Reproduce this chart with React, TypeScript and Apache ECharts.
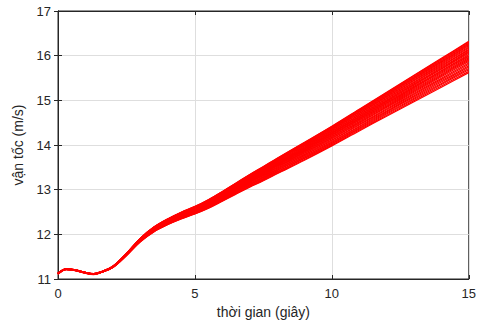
import React, { useEffect, useRef } from "react";
import * as echarts from "echarts";

// time samples (s)
const times = [0, 0.3, 0.6, 1.0, 1.3, 1.6, 2.0, 2.5, 3.0, 3.5, 4.0, 4.5, 5.0, 5.5, 6.0, 6.5, 7.0, 7.5, 8.0, 9.0, 10.0, 11.0, 12.0, 13.0, 14.0, 15.0];
// upper edge of the bundle of velocity curves (m/s)
const upperEdge = [11.13, 11.23, 11.21, 11.15, 11.12, 11.17, 11.285, 11.575, 11.91, 12.165, 12.345, 12.495, 12.625, 12.78, 12.96, 13.15, 13.34, 13.52, 13.705, 14.06, 14.42, 14.8, 15.18, 15.56, 15.94, 16.32];
// lower edge of the bundle (m/s)
const lowerEdge = [11.11, 11.21, 11.19, 11.13, 11.1, 11.15, 11.255, 11.525, 11.83, 12.055, 12.215, 12.345, 12.455, 12.585, 12.74, 12.9, 13.055, 13.2, 13.355, 13.66, 13.98, 14.315, 14.645, 14.97, 15.295, 15.62];
// relative position of each simulated run within the bundle (0 = lower edge, 1 = upper edge)
const runPositions = [0, 0.04, 0.09, 0.13, 0.18, 0.22, 0.27, 0.31, 0.36, 0.4, 0.44, 0.48, 0.52, 0.55, 0.58, 0.62, 0.65, 0.68, 0.72, 0.75, 0.79, 0.82, 0.86, 0.89, 0.92, 0.95, 0.98, 1];

const xTicks = [0, 5, 10, 15];
const yTicks = [11, 12, 13, 14, 15, 16, 17];

export default function App() {
  const ref = useRef<HTMLDivElement>(null);
  useEffect(() => {
    if (!ref.current) return;
    const chart = echarts.init(ref.current, null, { renderer: "svg" });
    const font = "Liberation Sans, Arial, sans-serif";
    const series = runPositions.map((p, k) => ({
      type: "line",
      name: "run" + k,
      data: times.map((t, i) => [t, lowerEdge[i] + p * (upperEdge[i] - lowerEdge[i])]),
      smooth: 0.35,
      showSymbol: false,
      symbol: "none",
      lineStyle: { color: "#ff0000", width: 1.2 },
      xAxisIndex: 0,
      yAxisIndex: 0,
      z: 3,
    }));
    const tickStyle = { show: true, inside: true, length: 4, lineStyle: { color: "#262626", width: 1 } };
    chart.setOption({
      animation: false,
      grid: { left: 58, right: 9, top: 11, bottom: 45, show: true, borderColor: "#262626", borderWidth: 1, backgroundColor: "#fff" },
      xAxis: [
        {
          type: "value", min: 0, max: 15, interval: 5, position: "bottom",
          name: "thời gian (giây)", nameLocation: "middle", nameGap: 25,
          nameTextStyle: { fontFamily: font, fontSize: 14, color: "#262626" },
          axisLine: { show: true, lineStyle: { color: "#262626" } },
          axisTick: tickStyle,
          axisLabel: { fontFamily: font, fontSize: 13, color: "#262626", margin: 8, formatter: (v: number) => (xTicks.includes(v) ? String(v) : "") },
          splitLine: { show: true, lineStyle: { color: "#dedede", width: 1 } },
        },
        {
          type: "value", min: 0, max: 15, interval: 5, position: "top",
          axisLine: { show: true, lineStyle: { color: "#262626" } },
          axisTick: tickStyle, axisLabel: { show: false }, splitLine: { show: false },
        },
      ],
      yAxis: [
        {
          type: "value", min: 11, max: 17, interval: 1, position: "left",
          name: "vận tốc (m/s)", nameLocation: "middle", nameGap: 33, nameRotate: 90,
          nameTextStyle: { fontFamily: font, fontSize: 14, color: "#262626" },
          axisLine: { show: true, lineStyle: { color: "#262626" } },
          axisTick: tickStyle,
          axisLabel: { fontFamily: font, fontSize: 13, color: "#262626", margin: 7, formatter: (v: number) => (yTicks.includes(v) ? String(v) : "") },
          splitLine: { show: true, lineStyle: { color: "#dedede", width: 1 } },
        },
        {
          type: "value", min: 11, max: 17, interval: 1, position: "right",
          axisLine: { show: true, lineStyle: { color: "#262626" } },
          axisTick: tickStyle, axisLabel: { show: false }, splitLine: { show: false },
        },
      ],
      series,
    });
    return () => chart.dispose();
  }, []);
  return <div ref={ref} style={{ width: 479, height: 324, position: "absolute", left: 0, top: 0, background: "#fff" }} />;
}
